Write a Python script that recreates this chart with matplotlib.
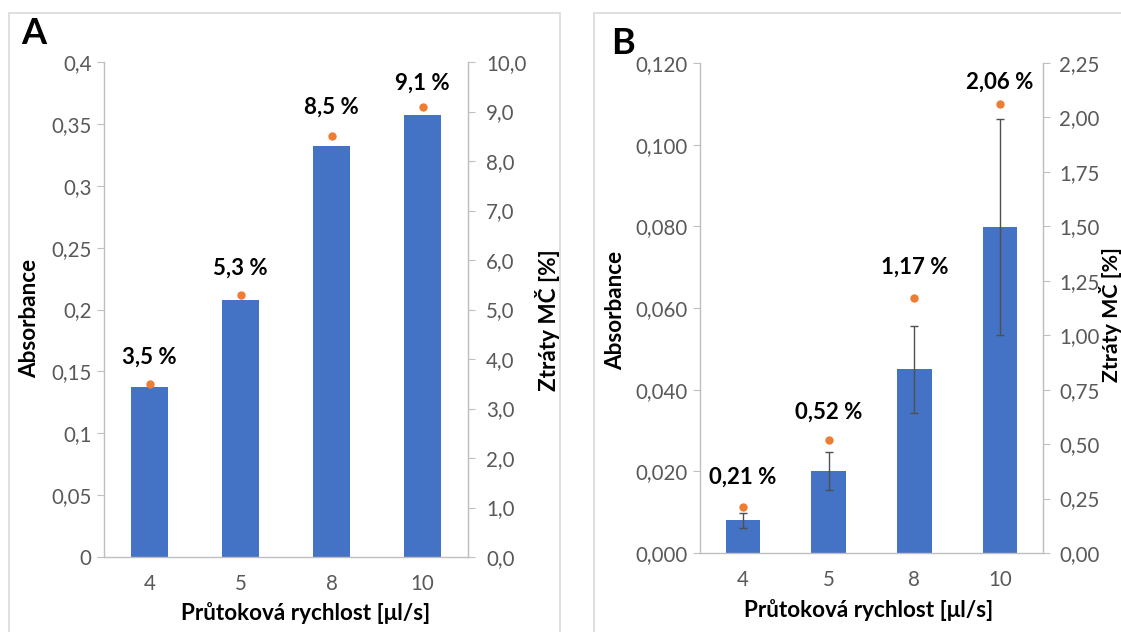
import matplotlib
matplotlib.use("Agg")
import matplotlib.pyplot as plt
from matplotlib.patches import Rectangle

plt.rcParams['font.family'] = ['Lato', 'DejaVu Sans']

categories = ["4", "5", "8", "10"]
# Panel A
abs_A = [0.137, 0.208, 0.332, 0.357]
loss_A = [3.5, 5.3, 8.5, 9.1]
loss_A_labels = ["3,5 %", "5,3 %", "8,5 %", "9,1 %"]
yticks_A = [0, 0.05, 0.1, 0.15, 0.2, 0.25, 0.3, 0.35, 0.4]
yticklabels_A = ["0", "0,05", "0,1", "0,15", "0,2", "0,25", "0,3", "0,35", "0,4"]
y2ticks_A = [0, 1, 2, 3, 4, 5, 6, 7, 8, 9, 10]
y2ticklabels_A = ["0,0", "1,0", "2,0", "3,0", "4,0", "5,0", "6,0", "7,0", "8,0", "9,0", "10,0"]
# Panel B
abs_B = [0.0080, 0.0201, 0.0450, 0.0798]
err_B = [0.0019, 0.0046, 0.0107, 0.0265]
loss_B = [0.21, 0.52, 1.17, 2.06]
loss_B_labels = ["0,21 %", "0,52 %", "1,17 %", "2,06 %"]
yticks_B = [0, 0.02, 0.04, 0.06, 0.08, 0.10, 0.12]
yticklabels_B = ["0,000", "0,020", "0,040", "0,060", "0,080", "0,100", "0,120"]
y2ticks_B = [0, 0.25, 0.5, 0.75, 1.0, 1.25, 1.5, 1.75, 2.0, 2.25]
y2ticklabels_B = ["0,00", "0,25", "0,50", "0,75", "1,00", "1,25", "1,50", "1,75", "2,00", "2,25"]

xlabel = "Průtoková rychlost [μl/s]"
ylabel = "Absorbance"
y2label = "Ztráty MČ [%]"

# label offsets above the dots (pixels) - styling only
label_off_A = [27, 26, 29, 23]
label_off_B = [30, 28, 31, 22]

BAR = "#4472C4"
DOT = "#ED7D31"
TICKC = "#595959"
SPINEC = "#BFBFBF"
FRAMEC = "#D9D9D9"
ERRC = "#505050"

TICK_FS = 14.8
LAB_FS = 16.2
DATA_FS = 16

W, H = 1121, 632
fig = plt.figure(figsize=(W / 100, H / 100), dpi=100)

def px_axes(l, t, r, b):
    return fig.add_axes([l / W, (H - b) / H, (r - l) / W, (b - t) / H])

# panel frames
fig.patches.append(Rectangle((8.5 / W, -0.05), (560 - 8.5) / W, (H - 13) / H + 0.05,
                             transform=fig.transFigure, fill=False,
                             edgecolor=FRAMEC, linewidth=1.2))
fig.patches.append(Rectangle((594 / W, -0.05), 0.6, (H - 13) / H + 0.05,
                             transform=fig.transFigure, fill=False,
                             edgecolor=FRAMEC, linewidth=1.2))

def make_panel(box, vals, err, losses, lab, offs, yt, ytl, ylim, y2t, y2tl, y2lim,
               letter, letter_xy, ylab_xy, y2lab_xy, xlab_xy, y2lab_fs, y2pad):
    ax = px_axes(*box)
    x = list(range(len(categories)))
    ax.bar(x, vals, width=0.4, color=BAR, zorder=2,
           yerr=err, error_kw=dict(ecolor=ERRC, elinewidth=1.0, capsize=3, capthick=1.0) if err else None)
    ax.set_xlim(-0.5, len(categories) - 0.5)
    ax.set_ylim(*ylim)
    ax.set_yticks(yt)
    ax.set_yticklabels(ytl)
    ax.set_xticks(x)
    ax.set_xticklabels(categories)
    ax.spines["top"].set_visible(False)
    for s in ["left", "bottom", "right"]:
        ax.spines[s].set_color(SPINEC)
        ax.spines[s].set_linewidth(1.0)
    ax.tick_params(axis="y", length=5, color=SPINEC, labelcolor=TICKC, labelsize=TICK_FS, pad=4)
    ax.tick_params(axis="x", length=0, labelcolor=TICKC, labelsize=TICK_FS, pad=12)

    ax2 = ax.twinx()
    ax2.set_ylim(*y2lim)
    ax2.set_yticks(y2t)
    ax2.set_yticklabels(y2tl)
    for s in ["top", "left", "bottom"]:
        ax2.spines[s].set_visible(False)
    ax2.spines["right"].set_color(SPINEC)
    ax2.tick_params(axis="y", length=5, color=SPINEC, labelcolor=TICKC, labelsize=TICK_FS, pad=y2pad)
    ax2.plot(x, losses, linestyle="none", marker="o", markersize=5, color=DOT, zorder=3)
    for xi, yi, t, o in zip(x, losses, lab, offs):
        ax2.annotate(t, (xi, yi), xytext=(0, o * 0.72), textcoords="offset points",
                     ha="center", va="center", fontsize=DATA_FS, fontweight="bold")

    fig.text(xlab_xy[0] / W, 1 - xlab_xy[1] / H, xlabel, ha="center", va="center",
             fontsize=LAB_FS, fontweight="bold")
    fig.text(ylab_xy[0] / W, 1 - ylab_xy[1] / H, ylabel, rotation=90, ha="center", va="center",
             fontsize=LAB_FS, fontweight="bold")
    fig.text(y2lab_xy[0] / W, 1 - y2lab_xy[1] / H, y2label, rotation=90, ha="center", va="center",
             fontsize=y2lab_fs, fontweight="bold")
    fig.text(letter_xy[0] / W, 1 - letter_xy[1] / H, letter, ha="left", va="top",
             fontsize=26, fontweight="bold")
    return ax

make_panel((104, 62, 468, 557), abs_A, None, loss_A, loss_A_labels, label_off_A,
           yticks_A, yticklabels_A, (0, 0.4), y2ticks_A, y2ticklabels_A, (0, 10),
           "A", (21, 17), (30, 318), (548, 320), (306, 613), LAB_FS, 8)
make_panel((700, 63, 1043, 553), abs_B, err_B, loss_B, loss_B_labels, label_off_B,
           yticks_B, yticklabels_B, (0, 0.12), y2ticks_B, y2ticklabels_B, (0, 2.25),
           "B", (611, 27), (616, 310), (1110, 315), (869, 610), 15.4, 6.5)

fig.savefig("out.png", dpi=100)
